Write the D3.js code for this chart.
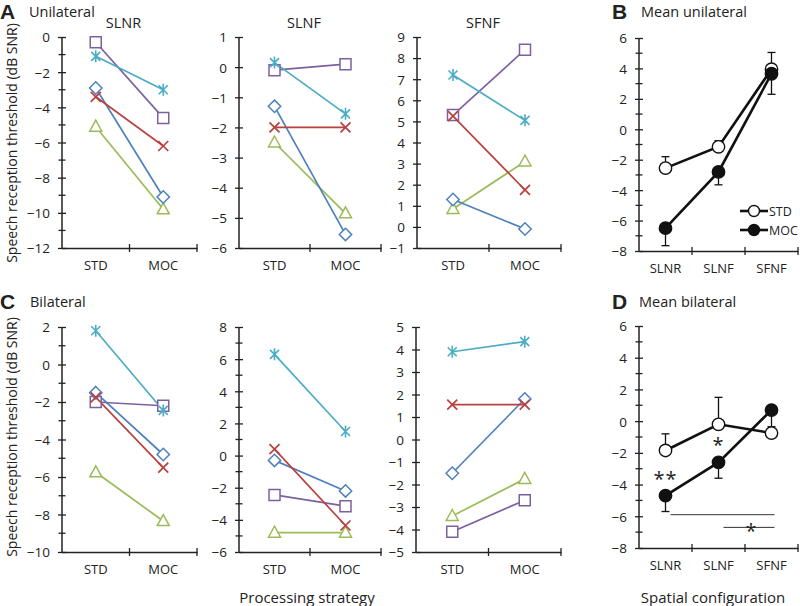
<!DOCTYPE html>
<html>
<head>
<meta charset="utf-8">
<script src="https://cdn.jsdelivr.net/npm/d3@7/dist/d3.min.js"></script>
<style>
  body { margin: 0; background: #fff; }
  svg { display: block; }
  text { font-family: "Open Sans", sans-serif; fill: #222; }
</style>
</head>
<body>
<div id="viz"></div>
<script>
// ---- data ----
const strategies = ['STD', 'MOC'];
const configs = ['SLNR', 'SLNF', 'SFNF'];

// per subject: [STD, MOC] for SLNR, SLNF, SFNF
const uniSquare   = [[-0.3, -4.6], [-0.1, 0.1], [5.3, 8.4]];
const uniStar     = [[-1.1, -3.0], [0.15, -1.55], [7.2, 5.05]];
const uniDiamond  = [[-2.9, -9.1], [-1.3, -5.55], [1.3, -0.1]];
const uniCross    = [[-3.4, -6.2], [-2.0, -2.0], [5.25, 1.75]];
const uniTriangle = [[-5.1, -9.8], [-2.5, -4.85], [0.85, 3.1]];

const biSquare   = [[-2.0, -2.2], [-2.45, -3.15], [-4.1, -2.7]];
const biStar     = [[1.8, -2.45], [6.3, 1.5], [3.9, 4.35]];
const biDiamond  = [[-1.5, -4.8], [-0.3, -2.2], [-1.5, 1.8]];
const biCross    = [[-1.75, -5.5], [0.4, -4.35], [1.55, 1.55]];
const biTriangle = [[-5.75, -8.35], [-4.8, -4.8], [-3.4, -1.75]];

// means over subjects, with one-sided error bars
const meanUniStd = [-2.55, -1.15, 3.95];
const meanUniStdErr = [0.75, 0.4, 1.1];
const meanUniMoc = [-6.5, -2.8, 3.65];
const meanUniMocErr = [1.15, 0.85, 1.35];

const meanBiStd = [-1.85, -0.2, -0.75];
const meanBiStdErr = [1.05, 1.7, 0.4];
const meanBiMoc = [-4.7, -2.6, 0.7];
const meanBiMocErr = [1.0, 1.0, 1.2];

const subjectColors = {square: '#7D60A0', star: '#4BACC6', diamond: '#4F81BD', cross: '#B8423F', triangle: '#9BBB59'};

const width = 800, height = 606;

const svg = d3.select('#viz')
    .append('svg')
    .attr('width', width)
    .attr('height', height)
    .style('background', '#fff');

// one small axis frame, returns its scales
function frame(opt) {
    const x = d3.scaleBand().domain(opt.cats).range([opt.x0, opt.x1]);
    const y = d3.scaleLinear().domain(opt.domain).range([opt.y1, opt.y0]);
    const g = svg.append('g');

    const labelled = d3.range(opt.domain[0], opt.domain[1] + 0.001, opt.label);
    const minor = d3.range(opt.domain[0], opt.domain[1] + 0.001, opt.minor)
        .filter(v => !labelled.some(l => Math.abs(l - v) < 1e-6));

    const yAxis = g.append('g')
        .attr('transform', `translate(${opt.x0},0)`)
        .call(d3.axisLeft(y).tickValues(labelled).tickSize(4).tickSizeOuter(0).tickPadding(8)
            .tickFormat(d3.format('d')));
    yAxis.select('.domain').remove();
    yAxis.selectAll('line').attr('x1', 4).attr('x2', -4).attr('stroke', '#222').attr('stroke-width', 1.3);
    yAxis.selectAll('text').style('font-size', '13.5px').style('font-family', '"Open Sans", sans-serif')
        .attr('fill', '#222').attr('dy', '0.36em');

    g.selectAll('.minor').data(minor).enter().append('line')
        .attr('x1', opt.x0 - 3.5).attr('x2', opt.x0 + 3.5)
        .attr('y1', d => y(d)).attr('y2', d => y(d))
        .attr('stroke', '#222').attr('stroke-width', 1.3);

    g.append('line').attr('x1', opt.x0).attr('x2', opt.x0)
        .attr('y1', y.range()[1]).attr('y2', y.range()[0])
        .attr('stroke', '#222').attr('stroke-width', 1.5);

    const xAxis = g.append('g')
        .attr('transform', `translate(0,${opt.y1})`)
        .call(d3.axisBottom(x).tickSize(0).tickPadding(13));
    xAxis.select('.domain').attr('stroke', '#222').attr('stroke-width', 1.5);
    xAxis.selectAll('text').style('font-size', '13px').style('font-family', '"Open Sans", sans-serif').attr('fill', '#222');

    const bounds = d3.range(opt.cats.length + 1).map(i => x.range()[0] + i * x.step());
    g.selectAll('.xt').data(bounds.slice(1)).enter().append('line')
        .attr('x1', d => d).attr('x2', d => d)
        .attr('y1', opt.y1 - 4).attr('y2', opt.y1 + 4)
        .attr('stroke', '#222').attr('stroke-width', 1.3);

    if (opt.title) {
        g.append('text').attr('x', (opt.x0 + opt.x1) / 2 - 6).attr('y', opt.y0 - 9)
            .attr('text-anchor', 'middle').style('font-size', '14.5px').text(opt.title);
    }
    return {x, y, g};
}

function cx(x, c) { return x(c) + x.bandwidth() / 2; }

function marker(g, kind, px, py, color) {
    const s = g.append('path').attr('fill', '#fff').attr('stroke', color).attr('stroke-width', 1.5)
        .attr('transform', `translate(${px},${py})`);
    if (kind === 'square') s.attr('d', 'M-5.5,-5.5H5.5V5.5H-5.5Z');
    if (kind === 'diamond') s.attr('d', 'M0,-6.2L6.2,0L0,6.2L-6.2,0Z');
    if (kind === 'triangle') s.attr('d', 'M0,-6.5L6,4.5L-6,4.5Z');
    if (kind === 'cross') s.attr('fill', 'none').attr('stroke-width', 1.7).attr('d', 'M-5,-5L5,5M-5,5L5,-5');
    if (kind === 'star') s.attr('fill', 'none').attr('stroke-width', 1.6).attr('d', 'M-4.5,-4.5L4.5,4.5M-4.5,4.5L4.5,-4.5M0,-6V6');
}

function subjects(f, series) {
    const line = d3.line().x((d, i) => cx(f.x, strategies[i])).y(d => f.y(d));
    series.forEach(s => {
        f.g.append('path').datum(s.values).attr('d', line)
            .attr('fill', 'none').attr('stroke', subjectColors[s.kind]).attr('stroke-width', 1.7);
    });
    series.forEach(s => {
        s.values.forEach((v, i) => marker(f.g, s.kind, cx(f.x, strategies[i]), f.y(v), subjectColors[s.kind]));
    });
}

function means(f, std, stdErr, moc, mocErr) {
    const line = d3.line().x((d, i) => cx(f.x, configs[i])).y(d => f.y(d));
    // error bars: STD upward, MOC downward
    [[std, stdErr, 1], [moc, mocErr, -1]].forEach(([vals, errs, dir]) => {
        vals.forEach((v, i) => {
            const px = cx(f.x, configs[i]), e = f.y(v + dir * errs[i]);
            f.g.append('line').attr('x1', px).attr('x2', px).attr('y1', f.y(v)).attr('y2', e)
                .attr('stroke', '#111').attr('stroke-width', 1.3);
            f.g.append('line').attr('x1', px - 4).attr('x2', px + 4).attr('y1', e).attr('y2', e)
                .attr('stroke', '#111').attr('stroke-width', 1.3);
        });
    });
    [std, moc].forEach(vals => {
        f.g.append('path').datum(vals).attr('d', line)
            .attr('fill', 'none').attr('stroke', '#111').attr('stroke-width', 2.6);
    });
    [[std, '#fff'], [moc, '#111']].forEach(([vals, fill]) => {
        f.g.selectAll(null).data(vals).enter().append('circle')
            .attr('cx', (d, i) => cx(f.x, configs[i])).attr('cy', d => f.y(d)).attr('r', 6.2)
            .attr('fill', fill).attr('stroke', '#111').attr('stroke-width', 1.4);
    });
}

// ---- top row: unilateral ----
const topPanels = [
    {title: 'SLNR', x0: 62, x1: 197, domain: [-12, 0], label: 2, minor: 1},
    {title: 'SLNF', x0: 239, x1: 381, domain: [-6, 1], label: 1, minor: 1},
    {title: 'SFNF', x0: 417, x1: 561, domain: [-1, 9], label: 1, minor: 1}
];
topPanels.forEach((p, k) => {
    const f = frame(Object.assign({cats: strategies, y0: 37, y1: 248}, p));
    subjects(f, [
        {kind: 'square', values: uniSquare[k]},
        {kind: 'triangle', values: uniTriangle[k]},
        {kind: 'diamond', values: uniDiamond[k]},
        {kind: 'cross', values: uniCross[k]},
        {kind: 'star', values: uniStar[k]}
    ]);
});

// ---- bottom row: bilateral ----
const bottomPanels = [
    {x0: 62, x1: 197, domain: [-10, 2], label: 2, minor: 1},
    {x0: 239, x1: 381, domain: [-6, 8], label: 2, minor: 1},
    {x0: 416, x1: 561, domain: [-5, 5], label: 1, minor: 1}
];
bottomPanels.forEach((p, k) => {
    const f = frame(Object.assign({cats: strategies, y0: 327, y1: 552}, p));
    subjects(f, [
        {kind: 'square', values: biSquare[k]},
        {kind: 'triangle', values: biTriangle[k]},
        {kind: 'diamond', values: biDiamond[k]},
        {kind: 'cross', values: biCross[k]},
        {kind: 'star', values: biStar[k]}
    ]);
});

// ---- means ----
const fB = frame({cats: configs, x0: 639, x1: 798, y0: 38, y1: 251, domain: [-8, 6], label: 2, minor: 1});
means(fB, meanUniStd, meanUniStdErr, meanUniMoc, meanUniMocErr);

const fD = frame({cats: configs, x0: 639, x1: 798, y0: 326, y1: 548, domain: [-8, 6], label: 2, minor: 1});
means(fD, meanBiStd, meanBiStdErr, meanBiMoc, meanBiMocErr);

// legend in B
[['STD', '#fff', 211], ['MOC', '#111', 230]].forEach(([name, fill, ly]) => {
    svg.append('line').attr('x1', 740).attr('x2', 768).attr('y1', ly).attr('y2', ly)
        .attr('stroke', '#111').attr('stroke-width', 2.6);
    svg.append('circle').attr('cx', 754).attr('cy', ly).attr('r', 5.5)
        .attr('fill', fill).attr('stroke', '#111').attr('stroke-width', 1.4);
    svg.append('text').attr('x', 769).attr('y', ly).attr('dy', '0.36em')
        .style('font-size', '12.5px').text(name);
});

// significance marks in D
const sigLines = [{from: 'SLNR', to: 'SFNF', value: -5.9}, {from: 'SLNF', to: 'SFNF', value: -6.7}];
sigLines.forEach(s => {
    svg.append('line')
        .attr('x1', cx(fD.x, s.from) + 5).attr('x2', cx(fD.x, s.to) + 3)
        .attr('y1', fD.y(s.value)).attr('y2', fD.y(s.value))
        .attr('stroke', '#333').attr('stroke-width', 1);
});
const stars = [{cat: 'SLNR', value: -3.35, text: '**'}, {cat: 'SLNF', value: -1.2, text: '*'}];
stars.forEach(s => {
    svg.append('text').attr('x', cx(fD.x, s.cat)).attr('y', fD.y(s.value) + 12)
        .attr('text-anchor', 'middle').style('font-size', '20px').style('letter-spacing', '1px').text(s.text);
});
svg.append('text').attr('x', (cx(fD.x, 'SLNF') + cx(fD.x, 'SFNF')) / 2 + 6).attr('y', fD.y(-6.7) + 11)
    .attr('text-anchor', 'middle').style('font-size', '20px').text('*');

// ---- panel labels and titles ----
const heads = [
    ['A', 'Unilateral', 0, 19, 29],
    ['B', 'Mean unilateral', 612, 19, 641],
    ['C', 'Bilateral', 0, 309, 30],
    ['D', 'Mean bilateral', 612, 309, 639]
];
heads.forEach(([letter, title, lx, ly, tx]) => {
    svg.append('text').attr('x', lx).attr('y', ly)
        .style('font-family', '"Liberation Sans", Arial, sans-serif')
        .style('font-weight', 'bold').style('font-size', '21px').attr('fill', '#000').text(letter);
    svg.append('text').attr('x', tx).attr('y', ly - 2).style('font-size', '14.5px').text(title);
});

// y axis titles
[143, 437].forEach(cy => {
    svg.append('text').attr('transform', `translate(17,${cy}) rotate(-90)`)
        .attr('text-anchor', 'middle').style('font-size', '14px')
        .text('Speech reception threshold (dB SNR)');
});

svg.append('text').attr('x', 307).attr('y', 603).attr('text-anchor', 'middle')
    .style('font-size', '15px').text('Processing strategy');
svg.append('text').attr('x', 713).attr('y', 603).attr('text-anchor', 'middle')
    .style('font-size', '15px').text('Spatial configuration');
</script>
</body>
</html>
